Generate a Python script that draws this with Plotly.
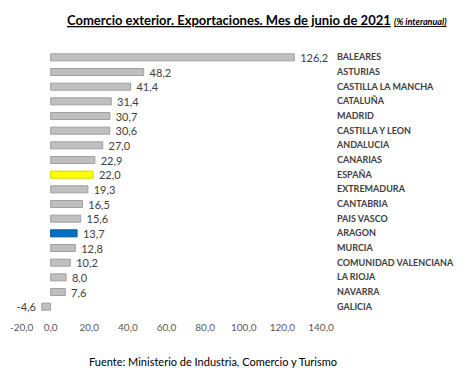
import plotly.graph_objects as go

regions = ["BALEARES", "ASTURIAS", "CASTILLA LA MANCHA", "CATALUÑA", "MADRID",
           "CASTILLA Y LEON", "ANDALUCIA", "CANARIAS", "ESPAÑA", "EXTREMADURA",
           "CANTABRIA", "PAIS VASCO", "ARAGON", "MURCIA", "COMUNIDAD VALENCIANA",
           "LA RIOJA", "NAVARRA", "GALICIA"]
values = [126.2, 48.2, 41.4, 31.4, 30.7, 30.6, 27.0, 22.9, 22.0, 19.3,
          16.5, 15.6, 13.7, 12.8, 10.2, 8.0, 7.6, -4.6]
x_ticks = [-20, 0, 20, 40, 60, 80, 100, 120, 140]

colors, line_colors = [], []
for r in regions:
    if r == "ESPAÑA":
        colors.append("#ffff00"); line_colors.append("#d8d800")
    elif r == "ARAGON":
        colors.append("#0070c0"); line_colors.append("#005a9c")
    else:
        colors.append("#bfbfbf"); line_colors.append("#a0a0a0")

FONT = "Lato, Open Sans, sans-serif"
OFF = 8  # page body margin
W, H = 474, 378
L, R, T, B = 12 - OFF, W - (321 - OFF), 50 - OFF, H - (314 - OFF)
pw, ph = W - L - R, H - T - B

def px2paper(px, py):
    return (px - OFF - L) / pw, 1 - (py - OFF - T) / ph

def fmt(v):
    return f"{v:.1f}".replace(".", ",")

fig = go.Figure(go.Bar(
    x=values, y=regions, orientation="h",
    marker=dict(color=colors, line=dict(color=line_colors, width=1)),
    text=[" " + fmt(v) if v >= 0 else fmt(v) + " " for v in values],
    textposition="outside", cliponaxis=False, constraintext="none",
    textfont=dict(family=FONT, size=11, color="#404040"),
))

tx, ty = px2paper(257, 20)
fx, fy = px2paper(213, 361)
lx, ly = px2paper(8, 327)

ticktext = [fmt(v) for v in x_ticks]
first_label = ticktext[0]
ticktext[0] = ""

fig.update_layout(
    width=W, height=H,
    margin=dict(l=L, r=R, t=T, b=B, autoexpand=False),
    paper_bgcolor="white", plot_bgcolor="white",
    bargap=0.52, showlegend=False,
    xaxis=dict(range=[-20, 140], tickvals=x_ticks, ticktext=ticktext,
               showgrid=False, zeroline=False, showline=False, ticks="",
               automargin=False, ticklabeloverflow="allow", ticklabelstandoff=6,
               tickfont=dict(family=FONT, size=10, color="#595959")),
    yaxis=dict(categoryorder="array", categoryarray=regions[::-1],
               side="right", showgrid=False, showline=False, ticks="",
               automargin=False, ticklabelstandoff=15,
               tickfont=dict(family=FONT, size=9, color="#404040", weight="bold")),
    annotations=[
        dict(text="<b><u>Comercio exterior. Exportaciones. Mes de junio de 2021</u></b> "
                  "<b><i><u><span style='font-size:9px'>(% interanual)</span></u></i></b>",
             x=tx, y=ty, xref="paper", yref="paper", showarrow=False,
             xanchor="center", yanchor="middle",
             font=dict(family=FONT, size=13, color="#000000")),
        dict(text="Fuente: Ministerio de Industria, Comercio y Turismo",
             x=fx, y=fy, xref="paper", yref="paper", showarrow=False,
             xanchor="center", yanchor="middle",
             font=dict(family=FONT, size=11, color="#000000")),
        dict(text=first_label, x=lx, y=ly, xref="paper", yref="paper",
             showarrow=False, xanchor="left", yanchor="middle",
             font=dict(family=FONT, size=10, color="#595959")),
    ],
)

fig.write_html("out.html")
